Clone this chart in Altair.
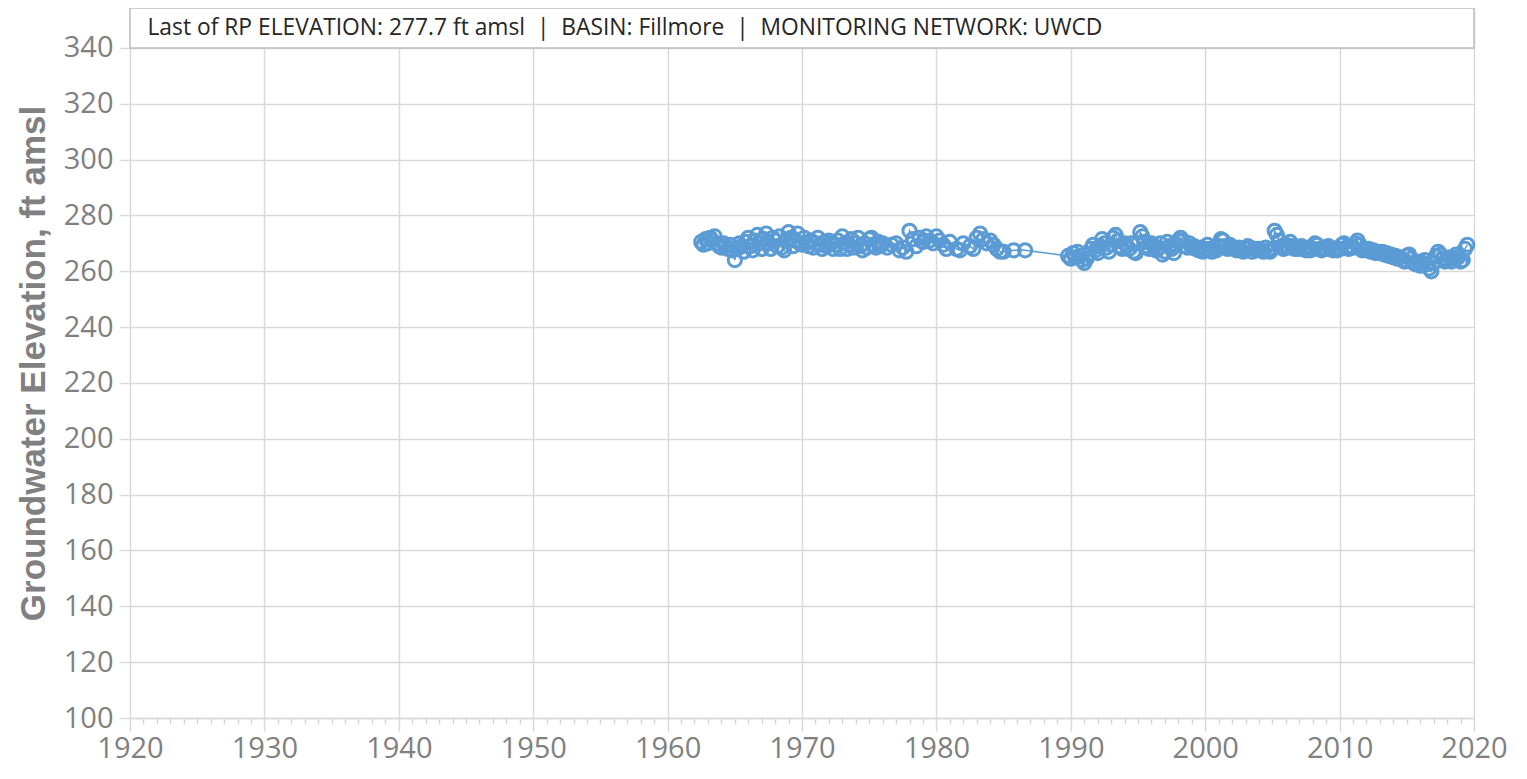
import altair as alt
import pandas as pd

DATES = [
    1962.50, 1962.67, 1962.83, 1963.00, 1963.17, 1963.33, 1963.50, 1963.67, 1963.83,
    1964.00, 1964.17, 1964.33, 1964.50, 1964.67, 1964.83, 1965.00, 1965.17, 1965.33,
    1965.50, 1965.67, 1965.83, 1966.00, 1966.17, 1966.33, 1966.50, 1966.67, 1966.83,
    1967.00, 1967.17, 1967.33, 1967.50, 1967.67, 1967.83, 1968.00, 1968.17, 1968.33,
    1968.50, 1968.67, 1968.83, 1969.00, 1969.17, 1969.33, 1969.50, 1969.67, 1969.83,
    1970.00, 1970.17, 1970.33, 1970.50, 1970.67, 1970.83, 1971.00, 1971.17, 1971.33,
    1971.50, 1971.67, 1971.83, 1972.00, 1972.17, 1972.33, 1972.50, 1972.67, 1972.83,
    1973.00, 1973.17, 1973.33, 1973.50, 1973.67, 1973.83, 1974.00, 1974.17, 1974.33,
    1974.50, 1974.67, 1974.83, 1975.00, 1975.17, 1975.33, 1975.50, 1975.67, 1975.83,
    1976.00, 1976.33, 1976.67, 1977.00, 1977.25, 1977.50, 1977.75, 1978.00, 1978.25,
    1978.50, 1978.75, 1979.00, 1979.25, 1979.50, 1979.75, 1980.00, 1980.25, 1980.50,
    1980.75, 1981.00, 1981.50, 1981.75, 1982.00, 1982.50, 1982.75, 1983.00, 1983.25,
    1983.50, 1983.75, 1984.00, 1984.25, 1984.50, 1984.75, 1985.00, 1985.75, 1986.60,
    1989.80, 1990.00, 1990.17, 1990.33, 1990.50, 1990.67, 1990.83, 1991.00, 1991.17,
    1991.33, 1991.50, 1991.67, 1991.83, 1992.00, 1992.17, 1992.33, 1992.50, 1992.67,
    1992.83, 1993.00, 1993.17, 1993.33, 1993.50, 1993.67, 1993.83, 1994.00, 1994.17,
    1994.33, 1994.50, 1994.67, 1994.83, 1995.00, 1995.17, 1995.33, 1995.50, 1995.67,
    1995.83, 1996.00, 1996.17, 1996.33, 1996.50, 1996.67, 1996.83, 1997.00, 1997.17,
    1997.33, 1997.50, 1997.67, 1997.83, 1998.00, 1998.17, 1998.33, 1998.50, 1998.67,
    1998.83, 1999.00, 1999.17, 1999.33, 1999.50, 1999.67, 1999.83, 2000.00, 2000.17,
    2000.33, 2000.50, 2000.67, 2000.83, 2001.00, 2001.17, 2001.33, 2001.50, 2001.67,
    2001.83, 2002.00, 2002.17, 2002.33, 2002.50, 2002.67, 2002.83, 2003.00, 2003.17,
    2003.33, 2003.50, 2003.67, 2003.83, 2004.00, 2004.17, 2004.33, 2004.50, 2004.67,
    2004.83, 2005.00, 2005.17, 2005.33, 2005.50, 2005.67, 2005.83, 2006.00, 2006.17,
    2006.33, 2006.50, 2006.67, 2006.83, 2007.00, 2007.17, 2007.33, 2007.50, 2007.67,
    2007.83, 2008.00, 2008.17, 2008.33, 2008.50, 2008.67, 2008.83, 2009.00, 2009.17,
    2009.33, 2009.50, 2009.67, 2009.83, 2010.00, 2010.17, 2010.33, 2010.50, 2010.67,
    2010.83, 2011.00, 2011.17, 2011.33, 2011.50, 2011.67, 2011.83, 2012.00, 2012.17,
    2012.33, 2012.50, 2012.67, 2012.83, 2013.00, 2013.17, 2013.33, 2013.50, 2013.67,
    2013.83, 2014.00, 2014.17, 2014.33, 2014.50, 2014.67, 2014.83, 2015.00, 2015.17,
    2015.33, 2015.50, 2015.67, 2015.83, 2016.00, 2016.17, 2016.33, 2016.50, 2016.67,
    2016.83, 2017.00, 2017.17, 2017.33, 2017.50, 2017.67, 2017.83, 2018.00, 2018.17,
    2018.33, 2018.50, 2018.67, 2018.83, 2019.00, 2019.17, 2019.33, 2019.50,
]

ELEVATION = [
    270.5, 269.5, 271.5, 270.0, 272.0, 271.0, 272.5, 270.0, 269.0,
    268.5, 270.0, 269.0, 268.0, 269.5, 267.5, 264.0, 268.0, 270.0,
    269.0, 267.0, 270.5, 272.0, 269.0, 267.5, 271.0, 273.0, 270.0,
    268.0, 271.5, 273.5, 270.0, 268.0, 272.0, 271.0, 269.0, 272.5,
    268.5, 267.5, 271.0, 274.0, 272.0, 269.0, 271.0, 273.5, 270.0,
    269.5, 272.0, 270.0, 269.0, 271.0, 268.5, 270.0, 272.0, 269.5,
    268.0, 270.5, 269.0, 271.0, 270.0, 268.0, 269.5, 271.0, 268.0,
    272.5, 270.0, 268.0, 269.5, 271.5, 268.5, 270.0, 272.0, 269.0,
    267.5, 270.0, 268.5, 271.5, 272.0, 269.5, 268.5, 270.5, 269.0,
    270.0, 268.5, 269.5, 270.0, 267.5, 268.5, 267.0, 274.5, 271.5,
    269.0, 272.0, 270.5, 272.5, 271.0, 270.0, 272.5, 271.0, 269.5,
    268.0, 270.5, 268.0, 267.5, 270.0, 269.0, 268.0, 272.0, 273.5,
    271.5, 270.0, 271.0, 269.5, 268.0, 267.0, 267.0, 267.5, 267.5,
    265.5, 264.5, 266.5, 265.0, 267.0, 265.5, 264.0, 263.0, 264.5,
    266.0, 268.0, 269.5, 267.5, 266.5, 269.0, 271.5, 270.0, 268.5,
    267.0, 269.5, 272.0, 273.0, 271.0, 269.0, 268.0, 270.0, 269.0,
    268.0, 270.0, 267.0, 266.5, 270.0, 274.0, 272.5, 270.5, 269.0,
    268.0, 270.0, 269.0, 267.5, 268.5, 270.0, 266.0, 267.0, 270.5,
    269.0, 268.0, 266.5, 269.5, 271.0, 272.0, 271.0, 269.0, 268.5,
    270.0, 268.5, 269.0, 268.0, 267.5, 268.5, 267.0, 268.0, 269.5,
    268.0, 267.0, 268.5, 267.5, 269.0, 271.5, 271.0, 269.0, 268.0,
    269.5, 268.5, 268.0, 267.5, 268.5, 267.5, 267.0, 268.0, 269.0,
    268.5, 267.0, 268.0, 267.5, 268.0, 267.5, 267.0, 268.5, 267.5,
    267.0, 268.0, 274.5, 273.0, 271.0, 269.0, 268.0, 269.5, 268.5,
    270.5, 269.0, 268.0, 268.5, 268.0, 269.0, 268.0, 267.5, 268.5,
    267.5, 268.0, 270.0, 269.5, 268.0, 267.5, 268.5, 268.0, 269.0,
    268.5, 267.5, 268.0, 267.5, 268.0, 269.5, 270.0, 268.5, 268.0,
    269.0, 268.5, 270.0, 271.0, 269.5, 267.5, 268.0, 267.5, 268.0,
    267.0, 267.5, 266.5, 267.0, 266.5, 267.0, 266.0, 266.5, 265.5,
    266.0, 265.0, 265.5, 264.5, 265.0, 264.0, 263.5, 265.5, 266.0,
    264.5, 263.0, 262.5, 263.5, 262.0, 263.0, 264.0, 262.5, 261.0,
    260.0, 263.0, 265.5, 267.0, 266.0, 264.5, 263.5, 264.0, 265.0,
    263.5, 264.5, 266.0, 265.0, 263.5, 264.0, 268.0, 269.5,
]

X_TICKS = list(range(1920, 2021))
Y_TICKS = [100, 120, 140, 160, 180, 200, 220, 240, 260, 280, 300, 320, 340]
NB = "\u00a0"
INFO_TEXT = (
    "Last of RP ELEVATION: 277.7 ft amsl" + NB * 2 + "|" + NB * 2
    + "BASIN: Fillmore" + NB * 2 + "|" + NB * 2
    + "MONITORING NETWORK: UWCD"
)

BLUE = "#5B9BD5"
GRID = "#D9D9D9"
LABEL = "#808080"
FONT = "Open Sans"

df = pd.DataFrame({"date": DATES, "elev": ELEVATION})

x_scale = alt.Scale(domain=[1920, 2020], nice=False, zero=False)
y_scale = alt.Scale(domain=[100, 354.3], nice=False, zero=False)

x_axis = alt.Axis(
    values=X_TICKS,
    labelExpr="datum.value % 10 === 0 ? datum.label : ''",
    format="d",
    labelOverlap=False,
    labelFlush=False,
    labelFontSize=29,
    labelFont=FONT,
    labelColor=LABEL,
    labelPadding=3,
    tickSize=alt.ExprRef("datum.value % 10 === 0 ? 13 : 6"),
    tickColor=GRID,
    tickWidth=1.5,
    domainColor=GRID,
    domainWidth=1.5,
    grid=True,
    gridColor=GRID,
    gridWidth=1.5,
    gridOpacity=alt.ExprRef("datum.value % 10 === 0 ? 1 : 0"),
    title=None,
)

y_axis = alt.Axis(
    values=Y_TICKS,
    labelFontSize=29,
    labelFont=FONT,
    labelColor=LABEL,
    labelPadding=7,
    tickSize=10,
    tickColor=GRID,
    tickWidth=1.5,
    domain=False,
    grid=True,
    gridColor=GRID,
    gridWidth=1.5,
    title="Groundwater Elevation, ft amsl",
    titleFont="Liberation Sans",
    titleFontSize=35,
    titleFontWeight="bold",
    titleColor=LABEL,
    titlePadding=12,
)

X = alt.X("date:Q", scale=x_scale, axis=x_axis)
Y = alt.Y("elev:Q", scale=y_scale, axis=y_axis)

base = alt.Chart(df)

line = base.mark_line(color=BLUE, strokeWidth=1.5).encode(x=X, y=Y)

points = base.mark_point(
    shape="circle", filled=False, color=BLUE, size=175, strokeWidth=3, opacity=1
).encode(x=X, y=Y)

box_df = pd.DataFrame({"x1": [1920], "x2": [2020], "y1": [340], "y2": [354.3]})
box = alt.Chart(box_df).mark_rect(fill="white", stroke="#BFBFBF", strokeWidth=1.5).encode(
    x=alt.X("x1:Q", scale=x_scale, axis=x_axis),
    x2="x2:Q",
    y=alt.Y("y1:Q", scale=y_scale, axis=y_axis),
    y2="y2:Q",
)

text_df = pd.DataFrame({"x": [1921.3], "y": [347.2], "t": [INFO_TEXT]})
info = alt.Chart(text_df).mark_text(
    align="left", baseline="middle", font=FONT, fontSize=22.8, color="#262626"
).encode(
    x=alt.X("x:Q", scale=x_scale, axis=x_axis),
    y=alt.Y("y:Q", scale=y_scale, axis=y_axis),
    text="t:N",
)

chart = alt.layer(line, points, box, info).properties(
    width=1344,
    height=710,
    autosize=alt.AutoSizeParams(type="none"),
    padding={"left": 122, "top": 0, "right": 45, "bottom": 53},
).configure_view(stroke=None)

chart.save("out.html", embed_options={"renderer": "svg", "actions": False})
